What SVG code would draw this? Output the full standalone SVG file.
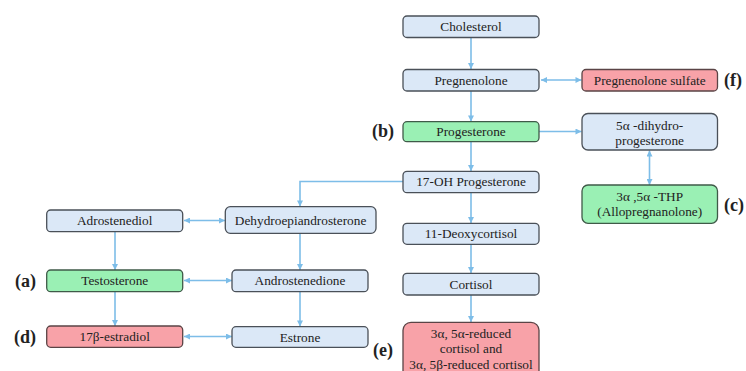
<svg xmlns="http://www.w3.org/2000/svg" width="746" height="371" viewBox="0 0 746 371">
<defs>
<marker id="ah" viewBox="0 0 8 8" refX="8" refY="4" markerWidth="7" markerHeight="6" markerUnits="userSpaceOnUse" orient="auto-start-reverse">
<path d="M0,0 L8,4 L0,8 z" fill="#7dbde8"/>
</marker>
<style>
.b{fill:#dbe8f7;stroke:#4a5058;stroke-width:1.3}
.g{fill:#9af0b4;stroke:#3f5a48;stroke-width:1.3}
.r{fill:#f8a2a8;stroke:#5a4446;stroke-width:1.3}
.t{font-family:'Liberation Serif','DejaVu Serif',serif;font-size:13.3px;fill:#222;text-anchor:middle}
.l{font-family:'Liberation Serif','DejaVu Serif',serif;font-size:18px;font-weight:bold;fill:#222}
.c{fill:none;stroke:#7dbde8;stroke-width:1.6}
</style>
</defs>
<rect width="746" height="371" fill="#ffffff"/>
<g id="connectors">
<path class="c" d="M471,37.5 V69" marker-end="url(#ah)"/>
<path class="c" d="M471,91 V121.5" marker-end="url(#ah)"/>
<path class="c" d="M471,142 V171" marker-end="url(#ah)"/>
<path class="c" d="M471,193 V223" marker-end="url(#ah)"/>
<path class="c" d="M471,244.5 V273" marker-end="url(#ah)"/>
<path class="c" d="M471,295 V322" marker-end="url(#ah)"/>
<path class="c" d="M541,80 H581.5" marker-start="url(#ah)" marker-end="url(#ah)"/>
<path class="c" d="M539,131.5 H581.5" marker-end="url(#ah)"/>
<path class="c" d="M649.5,150.5 V185" marker-start="url(#ah)" marker-end="url(#ah)"/>
<path class="c" d="M403,181.5 H300 V206.5" marker-end="url(#ah)"/>
<path class="c" d="M184,220.5 H225" marker-start="url(#ah)" marker-end="url(#ah)"/>
<path class="c" d="M300,233.5 V270" marker-end="url(#ah)"/>
<path class="c" d="M115,232 V270" marker-end="url(#ah)"/>
<path class="c" d="M184,280.5 H232" marker-start="url(#ah)" marker-end="url(#ah)"/>
<path class="c" d="M300,292 V326.5" marker-end="url(#ah)"/>
<path class="c" d="M115,292 V326" marker-end="url(#ah)"/>
<path class="c" d="M184,336.5 H232" marker-start="url(#ah)" marker-end="url(#ah)"/>
</g>
<g id="cholesterol"><rect class="b" x="403" y="16" width="136" height="21.5" rx="4"/><text class="t" x="471" y="31">Cholesterol</text></g>
<g id="pregnenolone"><rect class="b" x="403" y="69.5" width="136" height="21.5" rx="4"/><text class="t" x="471" y="84.5">Pregnenolone</text></g>
<g id="pregnenolone-sulfate"><rect class="r" x="582" y="69.5" width="135.5" height="21.5" rx="4"/><text class="t" x="649.7" y="84.5">Pregnenolone sulfate</text><text class="l" x="724" y="86">(f)</text></g>
<g id="progesterone"><rect class="g" x="403" y="121.7" width="136" height="20" rx="4"/><text class="t" x="471" y="136">Progesterone</text><text class="l" x="372" y="137">(b)</text></g>
<g id="dihydroprogesterone"><rect class="b" x="582" y="113.5" width="135.5" height="36.5" rx="6"/><text class="t" x="649.7" y="130">5α -dihydro-</text><text class="t" x="649.7" y="144.5">progesterone</text></g>
<g id="thp"><rect class="g" x="582" y="185" width="135.5" height="38.3" rx="6"/><text class="t" x="649.7" y="201">3α ,5α -THP</text><text class="t" x="649.7" y="216">(Allopregnanolone)</text><text class="l" x="724" y="211">(c)</text></g>
<g id="oh-progesterone"><rect class="b" x="403" y="171.3" width="136" height="21.4" rx="4"/><text class="t" x="471" y="186.3">17-OH Progesterone</text></g>
<g id="deoxycortisol"><rect class="b" x="403" y="223.3" width="136" height="21" rx="4"/><text class="t" x="471" y="238.3">11-Deoxycortisol</text></g>
<g id="cortisol"><rect class="b" x="403" y="273.3" width="136" height="21.7" rx="4"/><text class="t" x="471" y="288.5">Cortisol</text></g>
<g id="reduced-cortisol"><rect class="r" x="403" y="322.3" width="136" height="60" rx="8"/><text class="t" x="471" y="337.5">3α, 5α-reduced</text><text class="t" x="471" y="353">cortisol and</text><text class="t" x="471" y="368.5">3α, 5β-reduced cortisol</text><text class="l" x="373" y="356">(e)</text></g>
<g id="adrostenediol"><rect class="b" x="46.7" y="210" width="136" height="21.7" rx="4"/><text class="t" x="114.7" y="225">Adrostenediol</text></g>
<g id="dhea"><rect class="b" x="225.3" y="206.7" width="150.7" height="26.6" rx="5"/><text class="t" x="300.6" y="224.5">Dehydroepiandrosterone</text></g>
<g id="testosterone"><rect class="g" x="46.7" y="270" width="136" height="21.7" rx="4"/><text class="t" x="114.7" y="285">Testosterone</text><text class="l" x="15" y="287">(a)</text></g>
<g id="androstenedione"><rect class="b" x="232" y="270" width="136" height="21.7" rx="4"/><text class="t" x="300" y="285">Androstenedione</text></g>
<g id="estradiol"><rect class="r" x="46.7" y="326" width="136" height="21.3" rx="4"/><text class="t" x="114.7" y="341">17β-estradiol</text><text class="l" x="14" y="343">(d)</text></g>
<g id="estrone"><rect class="b" x="232" y="326.7" width="136" height="20.6" rx="4"/><text class="t" x="300" y="341.5">Estrone</text></g>
</svg>
